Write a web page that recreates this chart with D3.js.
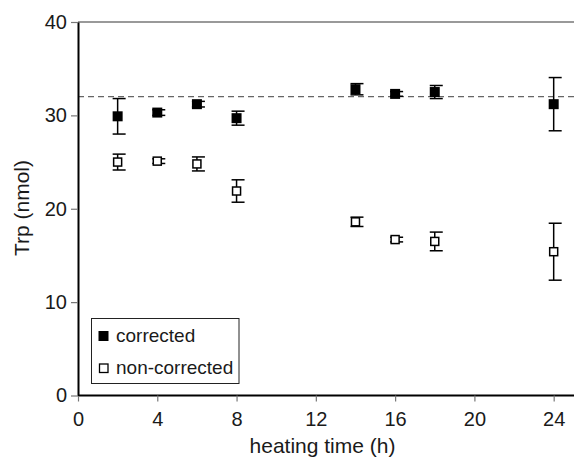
<!DOCTYPE html>
<html>
<head>
<meta charset="utf-8">
<script src="https://cdn.jsdelivr.net/npm/d3@7"></script>
<style>
  body { margin: 0; background: #fff; }
  svg { font-family: "Liberation Sans", Arial, sans-serif; }
</style>
</head>
<body>
<svg id="chart" width="574" height="458"></svg>
<script>
// heating time (h)
const hours = [2, 4, 6, 8, 14, 16, 18, 24];
// Trp (nmol), corrected
const corrected = [29.9, 30.3, 31.2, 29.7, 32.8, 32.3, 32.5, 31.2];
const correctedErr = [1.9, 0.3, 0.3, 0.75, 0.6, 0.25, 0.7, 2.85];
// Trp (nmol), non-corrected
const nonCorrected = [25.0, 25.1, 24.8, 21.9, 18.6, 16.7, 16.5, 15.4];
const nonCorrectedErr = [0.85, 0.25, 0.75, 1.2, 0.5, 0.25, 1.0, 3.05];
const xTicks = [0, 4, 8, 12, 16, 20, 24];
const yTicks = [0, 10, 20, 30, 40];
const refLevel = 32;

const svg = d3.select("#chart");
const plotLeft = 78, plotRight = 573.5, plotTop = 22, plotBottom = 395.5;
const textColor = "#1a1a1a";

const x = d3.scaleLinear().domain([0, 25]).range([plotLeft, plotRight]);
const y = d3.scaleLinear().domain([0, 40]).range([plotBottom, plotTop]);

// top frame line
svg.append("line")
  .attr("x1", plotLeft).attr("x2", 574)
  .attr("y1", y(40)).attr("y2", y(40))
  .attr("stroke", "#777").attr("stroke-width", 1.5);

// dashed reference line
svg.append("line")
  .attr("x1", plotLeft).attr("x2", 574)
  .attr("y1", y(refLevel)).attr("y2", y(refLevel))
  .attr("stroke", "#666").attr("stroke-width", 1.3)
  .attr("stroke-dasharray", "6,4");

// axes
const xAxis = d3.axisBottom(x).tickValues(xTicks).tickSize(6).tickPadding(10).tickSizeOuter(0);
const gx = svg.append("g").attr("transform", `translate(0,${plotBottom})`).call(xAxis);
gx.select(".domain").attr("stroke", "#000").attr("stroke-width", 2)
  .attr("d", `M${plotLeft},0H574`);
gx.selectAll(".tick line").attr("stroke", "#777").attr("stroke-width", 1.2);
gx.selectAll(".tick text").attr("font-size", 20).attr("fill", textColor)
  .attr("font-family", "Liberation Sans, Arial, sans-serif");

const yAxis = d3.axisLeft(y).tickValues(yTicks).tickSize(7).tickPadding(4).tickSizeOuter(0);
const gy = svg.append("g").attr("transform", `translate(${plotLeft},0)`).call(yAxis);
gy.select(".domain").attr("stroke", "#000").attr("stroke-width", 2);
gy.selectAll(".tick line").attr("stroke", "#777").attr("stroke-width", 1.2);
gy.selectAll(".tick text").attr("font-size", 20).attr("fill", textColor)
  .attr("font-family", "Liberation Sans, Arial, sans-serif");

// axis titles
svg.append("text")
  .attr("x", 322.5).attr("y", 452.5)
  .attr("text-anchor", "middle").attr("font-size", 21).attr("fill", textColor)
  .text("heating time (h)");

svg.append("text")
  .attr("transform", `translate(28.5,208) rotate(-90)`)
  .attr("text-anchor", "middle").attr("font-size", 21).attr("fill", textColor)
  .text("Trp (nmol)");

function drawSeries(vals, errs, filled) {
  const data = hours.map((h, i) => ({ h: h, v: vals[i], e: errs[i] }));
  const g = svg.append("g");
  // error bars
  data.forEach(d => {
    const cx = x(d.h);
    g.append("line")
      .attr("x1", cx).attr("x2", cx)
      .attr("y1", y(d.v + d.e)).attr("y2", y(d.v - d.e))
      .attr("stroke", "#000").attr("stroke-width", 1.5);
    [d.v + d.e, d.v - d.e].forEach(val => {
      g.append("line")
        .attr("x1", cx - 5).attr("x2", cx + 8)
        .attr("y1", y(val)).attr("y2", y(val))
        .attr("stroke", "#000").attr("stroke-width", 1.5);
    });
  });
  // markers
  const s = filled ? 10 : 8;
  g.selectAll("rect").data(data).enter().append("rect")
    .attr("x", d => x(d.h) - s / 2)
    .attr("y", d => y(d.v) - s / 2)
    .attr("width", s).attr("height", s)
    .attr("fill", filled ? "#000" : "#fff")
    .attr("stroke", "#000")
    .attr("stroke-width", filled ? 0 : 1.5);
}

drawSeries(corrected, correctedErr, true);
drawSeries(nonCorrected, nonCorrectedErr, false);

// legend
const lg = svg.append("g");
lg.append("rect")
  .attr("x", 91.5).attr("y", 318.5).attr("width", 147.5).attr("height", 65)
  .attr("fill", "#fff").attr("stroke", "#222").attr("stroke-width", 1);
lg.append("rect").attr("x", 98.5).attr("y", 331).attr("width", 10).attr("height", 10).attr("fill", "#000");
lg.append("text").attr("x", 116).attr("y", 341.5).attr("font-size", 19).attr("fill", textColor).text("corrected");
lg.append("rect").attr("x", 99.5).attr("y", 364).attr("width", 8.5).attr("height", 8.5)
  .attr("fill", "#fff").attr("stroke", "#000").attr("stroke-width", 1.3);
lg.append("text").attr("x", 116).attr("y", 374).attr("font-size", 19).attr("fill", textColor).text("non-corrected");
</script>
</body>
</html>
